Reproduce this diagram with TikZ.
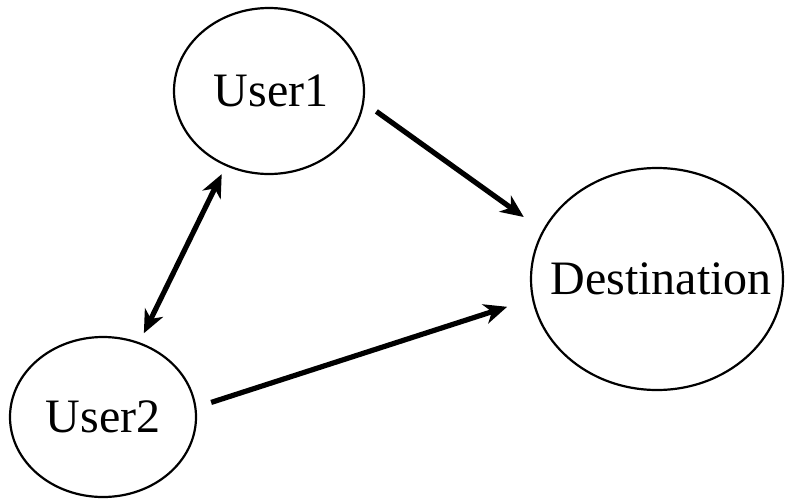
\documentclass[tikz,border=0pt]{standalone}
\usepackage{fontspec}
\setmainfont{Liberation Serif}
\usetikzlibrary{shapes.geometric,arrows.meta}
\newcommand{\flatlabel}[2][0pt]{\makebox[0pt][c]{\hspace*{#1}#2}}
\begin{document}
\begin{tikzpicture}[x=1pt,y=-1pt,
  party/.style={draw,ellipse,line width=2.2pt,inner sep=0pt,font=\fontsize{48}{50}\selectfont},
  tip/.tip={Stealth[length=23pt,width=20pt,inset=7pt]},
  link/.style={line width=5.2pt,-tip},
  duplex/.style={line width=5.2pt,tip-tip}]
  \useasboundingbox (0,0) rectangle (786,498);
  \node[party,minimum width=190pt,minimum height=166pt] (u1) at (269,91) {\flatlabel[4pt]{User1}};
  \node[party,minimum width=252pt,minimum height=222pt] (dest) at (657,279) {\flatlabel[8pt]{Destination}};
  \node[party,minimum width=186pt,minimum height=160pt] (u2) at (103,417) {\flatlabel{User2}};
  \draw[link,shorten <=15pt,shorten >=23pt] (u1.-7.5) -- (dest.157.1);
  \draw[link,shorten <=15.5pt,shorten >=26pt] (u2.6.3) -- (dest.-171.9);
  \draw[duplex,shorten <=10pt,shorten >=9pt] (u2.64.2) -- (u1.240.3);
\end{tikzpicture}
\end{document}
